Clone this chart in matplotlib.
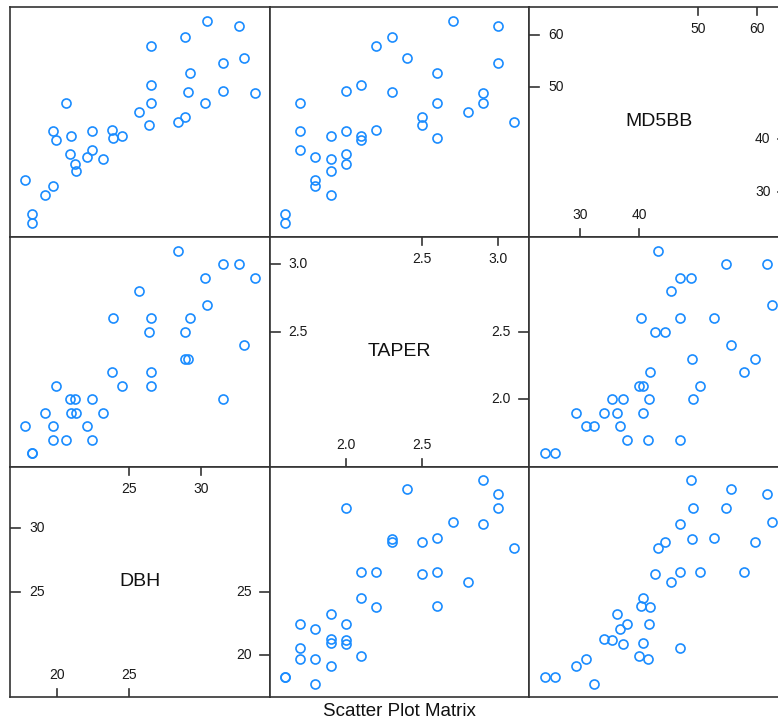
import matplotlib
matplotlib.use('Agg')
import matplotlib.pyplot as plt
from matplotlib import transforms

# values, one entry per tree
dbh = [30.45, 32.66, 28.93, 26.52, 31.54, 33.04, 29.23, 26.52, 29.11, 31.54,
       33.76, 20.59, 26.52, 30.33, 25.73, 28.93, 28.41, 26.40, 19.70, 19.93,
       20.95, 22.43, 23.78, 23.88, 24.53, 20.90, 22.43, 22.08, 23.20, 21.22,
       21.29, 17.76, 19.70, 19.12, 18.25, 18.25]
taper = [2.7, 3.0, 2.3, 2.2, 3.0, 2.4, 2.6, 2.1, 2.3, 2.0,
         2.9, 1.7, 2.6, 2.9, 2.8, 2.5, 3.1, 2.5, 1.7, 2.1,
         1.9, 2.0, 2.2, 2.6, 2.1, 2.0, 1.7, 1.8, 1.9, 2.0,
         1.9, 1.8, 1.8, 1.9, 1.6, 1.6]
md5bb = [62.65, 61.77, 59.67, 57.90, 54.70, 55.67, 52.67, 50.44, 49.05, 49.24,
         48.85, 46.95, 46.95, 46.95, 45.36, 44.40, 43.30, 42.70, 41.55, 39.95,
         40.70, 41.66, 41.85, 40.27, 40.70, 37.20, 37.90, 36.70, 36.26, 35.36,
         34.00, 32.30, 31.05, 29.33, 25.80, 24.00]

var_names = ['DBH', 'TAPER', 'MD5BB']
low_ticks = [[20, 25], [2.0, 2.5], [30, 40]]
high_ticks = [[25, 30], [2.5, 3.0], [50, 60]]
tick_fmt = ['{:.0f}', '{:.1f}', '{:.0f}']

plt.rcParams['font.family'] = ['Liberation Sans', 'DejaVu Sans']

BLUE = '#1a8cff'
FRAME = '#333333'

W, H = 778, 724
fig = plt.figure(figsize=(W / 100, H / 100), dpi=100)
fig.patch.set_facecolor('white')

col_left = [10, 269.5, 529]
row_top = [7, 237, 467]
pw, ph = 259.5, 230
limits = [(16.7, 34.8), (1.5, 3.2), (21.3, 65.4)]
values = [dbh, taper, md5bb]


def off(ax, trans, dx, dy):
    return transforms.offset_copy(trans, fig=fig, x=dx, y=dy, units='dots')


def diagonal(ax, i):
    ax.text(0.5, 0.5, var_names[i], transform=ax.transAxes, ha='center',
            va='center', fontsize=14, color='#111111')
    tx = transforms.blended_transform_factory(ax.transData, ax.transAxes)
    ty = transforms.blended_transform_factory(ax.transAxes, ax.transData)
    tlx, tly = 8 / ph, 10 / pw
    kw = dict(fontsize=10, color='#1a1a1a', va='center')
    # lower values: bottom and right
    for v in low_ticks[i]:
        lab = tick_fmt[i].format(v)
        ax.axvline(v, 0, tlx, color=FRAME, lw=1.2)
        ax.text(v, 0, lab, transform=off(ax, tx, 0, 22), ha='center', **kw)
        ax.axhline(v, 1 - tly, 1, color=FRAME, lw=1.2)
        ax.text(1, v, lab, transform=off(ax, ty, -18, 0), ha='right', **kw)
    # upper values: top and left
    for v in high_ticks[i]:
        lab = tick_fmt[i].format(v)
        ax.axvline(v, 1 - tlx, 1, color=FRAME, lw=1.2)
        ax.text(v, 1, lab, transform=off(ax, tx, 0, -22), ha='center', **kw)
        ax.axhline(v, 0, tly, color=FRAME, lw=1.2)
        ax.text(0, v, lab, transform=off(ax, ty, 19, 0), ha='left', **kw)


for r in range(3):
    for c in range(3):
        ax = fig.add_axes([col_left[c] / W, 1 - (row_top[r] + ph) / H, pw / W, ph / H])
        xi, yi = c, 2 - r
        ax.set_xlim(limits[xi])
        ax.set_ylim(limits[yi])
        ax.set_xticks([])
        ax.set_yticks([])
        for s in ax.spines.values():
            s.set_color(FRAME)
            s.set_linewidth(1.2)
        if xi == yi:
            diagonal(ax, xi)
        else:
            ax.plot(values[xi], values[yi], 'o', mfc='none', mec=BLUE,
                    ms=6.5, mew=1.2, linestyle='none')

fig.text(399.5 / W, 1 - 711 / H, 'Scatter Plot Matrix', ha='center',
         va='center', fontsize=13.5, color='#111111')

fig.savefig('out.png', dpi=100)
